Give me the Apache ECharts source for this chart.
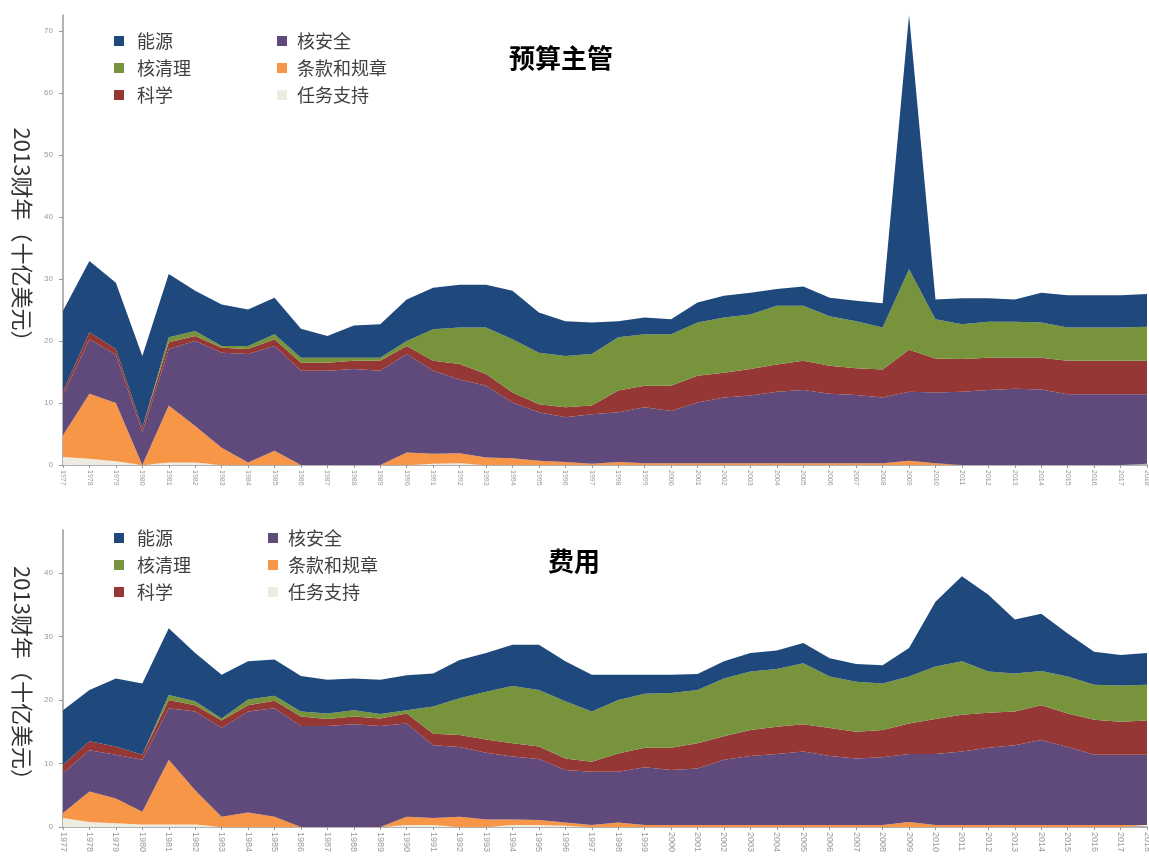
<!DOCTYPE html>
<html>
<head>
<meta charset="utf-8">
<script src="https://cdn.jsdelivr.net/npm/echarts@6/dist/echarts.min.js"></script>
<style>
  html, body { margin: 0; padding: 0; background: #fff; }
  #chart { width: 1149px; height: 859px; }
</style>
</head>
<body>
<div id="chart"></div>
<script>
// Fiscal years on the horizontal axis
const years = [];
for (let y = 1977; y <= 2018; y++) years.push(String(y));

// Legend / series names
const names = ['任务支持', '条款和规章', '核安全', '科学', '核清理', '能源'];
const legendCol1 = ['能源', '核清理', '科学'];
const legendCol2 = ['核安全', '条款和规章', '任务支持'];

// 预算主管 (budget authority), FY2013 $ billions
const budgetSupport    = [1.3,1.0,0.6,0,0.4,0.4,0,0,0,0,0,0,0,0,0.2,0.3,0,0,0,0,0,0,0,0,0,0,0,0,0,0,0,0,0,0,0,0,0,0,0,0,0,0];
const budgetRegulation = [3.5,10.5,9.4,0,9.2,5.9,2.8,0.4,2.3,0,0,0,0,2.0,1.6,1.6,1.2,1.1,0.7,0.5,0.2,0.5,0.3,0.3,0.3,0.3,0.3,0.3,0.3,0.3,0.3,0.3,0.7,0.3,0,0,0,0,0,0,0,0.2];
const budgetSecurity   = [6.5,8.8,7.8,5.3,9.1,13.7,15.3,17.5,16.9,15.2,15.2,15.5,15.2,15.9,13.4,11.9,11.6,9.0,7.8,7.2,8.0,8.0,9.0,8.4,9.8,10.6,10.9,11.5,11.8,11.2,11.0,10.6,11.1,11.4,11.8,12.1,12.3,12.2,11.4,11.4,11.4,11.2];
const budgetScience    = [0.6,1.1,0.9,0.7,1.1,0.8,0.8,0.8,1.1,1.3,1.3,1.3,1.6,1.3,1.6,2.5,1.9,1.6,1.3,1.6,1.4,3.5,3.5,4.1,4.3,4.0,4.3,4.4,4.7,4.5,4.3,4.5,6.8,5.5,5.3,5.2,5.0,5.1,5.4,5.4,5.4,5.4];
const budgetCleanup    = [0,0,0,0,0.8,0.8,0.3,0.5,0.8,0.8,0.8,0.5,0.5,0.8,5.1,5.9,7.5,8.6,8.3,8.3,8.3,8.6,8.3,8.3,8.6,8.9,8.8,9.5,8.9,8.0,7.6,6.8,13.0,6.3,5.6,5.8,5.8,5.7,5.4,5.4,5.4,5.5];
const budgetEnergy     = [13.0,11.5,10.7,11.6,10.2,6.5,6.7,5.9,5.9,4.7,3.5,5.2,5.4,6.7,6.7,6.9,6.9,7.8,6.5,5.6,5.1,2.6,2.7,2.4,3.2,3.5,3.5,2.7,3.1,3.0,3.3,3.9,41.0,3.2,4.2,3.8,3.6,4.8,5.2,5.2,5.2,5.3];

// 费用 (outlays), FY2013 $ billions
const spendSupport    = [1.4,0.8,0.6,0.4,0.4,0.4,0,0,0,0,0,0,0,0.3,0.3,0,0,0.3,0.3,0.2,0,0,0,0,0,0,0,0,0,0,0,0,0,0,0,0,0,0,0,0,0,0];
const spendRegulation = [0.8,4.8,3.9,2.0,10.2,5.4,1.6,2.3,1.6,0,0,0,0,1.3,1.1,1.6,1.2,0.9,0.8,0.5,0.3,0.7,0.3,0.3,0.3,0.3,0.3,0.3,0.3,0.3,0.3,0.3,0.8,0.3,0.3,0.3,0.3,0.3,0.3,0.3,0.3,0.3];
const spendSecurity   = [6.3,6.5,6.9,8.2,8.1,12.4,14.0,15.9,17.1,15.9,15.9,16.2,15.9,14.7,11.5,11.0,10.5,9.9,9.6,8.3,8.4,8.0,9.1,8.7,8.9,10.3,10.9,11.2,11.6,10.9,10.5,10.7,10.7,11.2,11.6,12.2,12.6,13.4,12.3,11.1,11.1,11.1];
const spendScience    = [1.3,1.4,1.3,0.8,1.3,1.0,1.2,1.0,1.2,1.5,1.1,1.2,1.2,1.6,1.8,1.9,2.1,2.1,2.0,1.8,1.6,2.9,3.1,3.5,4.0,3.7,4.1,4.3,4.3,4.4,4.2,4.3,4.8,5.5,5.8,5.5,5.3,5.5,5.3,5.5,5.2,5.4];
const spendCleanup    = [0,0,0,0,0.8,0.6,0.3,0.9,0.8,0.8,0.9,1.0,0.7,0.5,4.3,5.8,7.5,9.0,8.9,9.0,7.9,8.4,8.5,8.6,8.4,9.1,9.2,9.1,9.6,8.1,7.9,7.3,7.4,8.3,8.4,6.5,6.0,5.4,5.8,5.5,5.7,5.6];
const spendEnergy     = [8.6,8.1,10.7,11.2,10.5,7.6,6.9,6.0,5.7,5.6,5.3,5.0,5.4,5.5,5.2,6.0,6.1,6.5,7.1,6.3,5.8,4.0,3.0,2.9,2.5,2.7,2.9,2.9,3.2,2.9,2.8,2.9,4.5,10.2,13.4,12.1,8.5,9.0,6.8,5.2,4.8,5.0];

const colors = {
  '任务支持': '#EEECE1',
  '条款和规章': '#F79646',
  '核安全': '#604A7B',
  '科学': '#953735',
  '核清理': '#77933C',
  '能源': '#1F497D'
};

const font = '"Noto Sans CJK SC", "Noto Sans", sans-serif';

function stackSeries(gridIdx, arrays, stackId) {
  return names.map((n, i) => ({
    name: n,
    type: 'line',
    xAxisIndex: gridIdx,
    yAxisIndex: gridIdx,
    stack: stackId,
    data: arrays[i],
    showSymbol: false,
    symbol: 'none',
    lineStyle: { width: 0 },
    itemStyle: { color: colors[n] },
    areaStyle: { color: colors[n], opacity: 1 },
    emphasis: { disabled: true }
  }));
}

function legendBlock(data, left, top, textPad) {
  return {
    data: data,
    orient: 'vertical',
    left: left,
    top: top,
    padding: 0,
    itemGap: 9,
    itemWidth: 10,
    itemHeight: 10,
    icon: 'rect',
    selectedMode: false,
    textStyle: { fontSize: 18, color: '#404040', fontFamily: font, padding: [0, 0, 0, textPad] }
  };
}

function xAxisDef(gridIdx, labelSize) {
  return {
    gridIndex: gridIdx,
    type: 'category',
    data: years,
    boundaryGap: false,
    axisLine: { lineStyle: { color: '#999', width: 1.5 } },
    axisTick: { show: true, length: 3, lineStyle: { color: '#999' } },
    axisLabel: { rotate: -90, fontSize: labelSize, color: '#999', interval: 0, margin: 5, fontFamily: 'Liberation Sans' },
    splitLine: { show: false }
  };
}

function yAxisDef(gridIdx, max) {
  return {
    gridIndex: gridIdx,
    type: 'value',
    min: 0,
    max: max,
    interval: 10,
    axisLine: { show: true, lineStyle: { color: '#999', width: 1.5 } },
    axisTick: { show: true, length: 4, lineStyle: { color: '#999' } },
    axisLabel: { fontSize: 8, color: '#999', showMaxLabel: false, margin: 10, fontFamily: 'Liberation Sans' },
    splitLine: { show: false },
    name: '2013财年（十亿美元）',
    nameLocation: 'middle',
    nameRotate: -90,
    nameGap: 30,
    nameTextStyle: { fontSize: 22, color: '#333', fontFamily: font }
  };
}

const option = {
  animation: false,
  backgroundColor: '#fff',
  title: [
    { text: '预算主管', left: 556, top: 40, textAlign: 'center',
      textStyle: { fontSize: 26, fontWeight: 'bold', color: '#000', fontFamily: font } },
    { text: '费用', left: 569, top: 543, textAlign: 'center',
      textStyle: { fontSize: 26, fontWeight: 'bold', color: '#000', fontFamily: font } }
  ],
  legend: [
    legendBlock(legendCol1, 114, 32, 8),
    legendBlock(legendCol2, 277, 32, 5),
    legendBlock(legendCol1, 114, 529, 8),
    legendBlock(legendCol2, 268, 529, 5)
  ],
  grid: [
    { left: 63, top: 15, width: 1084, height: 450, outerBoundsMode: 'none' },
    { left: 63, top: 530, width: 1084, height: 297, outerBoundsMode: 'none' }
  ],
  xAxis: [xAxisDef(0, 7), xAxisDef(1, 9)],
  yAxis: [yAxisDef(0, 72.6), yAxisDef(1, 46.8)],
  series: [
    ...stackSeries(0, [budgetSupport, budgetRegulation, budgetSecurity, budgetScience, budgetCleanup, budgetEnergy], 'budget'),
    ...stackSeries(1, [spendSupport, spendRegulation, spendSecurity, spendScience, spendCleanup, spendEnergy], 'spend')
  ]
};

const chart = echarts.init(document.getElementById('chart'), null, { renderer: 'canvas' });
chart.setOption(option);
</script>
</body>
</html>
